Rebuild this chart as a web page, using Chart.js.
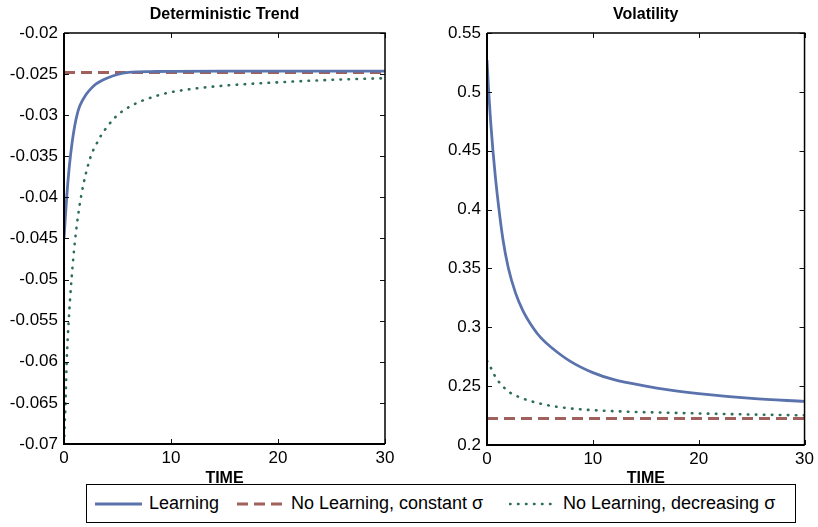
<!DOCTYPE html>
<html>
<head>
<meta charset="utf-8">
<script src="https://cdn.jsdelivr.net/npm/chart.js@4/dist/chart.umd.min.js"></script>
<style>
  html, body { margin: 0; padding: 0; background: #fff; }
  body { width: 818px; height: 527px; position: relative; overflow: hidden;
         font-family: "Liberation Sans", Arial, Helvetica, sans-serif; }
  canvas { position: absolute; top: 0; }
  #trendChart { left: 0; }
  #volChart { left: 420px; }
  #legend { position: absolute; left: 86px; top: 484px; width: 710px; height: 39px;
            border: 1px solid #000; box-sizing: border-box; background: #fff; }
  #legend svg { position: absolute; top: 15px; }
  #legend span { position: absolute; top: 0; line-height: 37px; font-size: 18px; color: #000;
                 white-space: nowrap; }
</style>
</head>
<body>
<canvas id="trendChart" width="400" height="495"></canvas>
<canvas id="volChart" width="398" height="495"></canvas>

<div id="legend">
  <svg style="left:8px" width="47" height="8"><line x1="0" y1="4" x2="47" y2="4" stroke="#5b73ad" stroke-width="2.8"/></svg>
  <span style="left:62px">Learning</span>
  <svg style="left:150px" width="47" height="8"><line x1="0" y1="4" x2="47" y2="4" stroke="#a0605c" stroke-width="3" stroke-dasharray="11 6"/></svg>
  <span style="left:204px">No Learning, constant σ</span>
  <svg style="left:422px" width="47" height="8"><line x1="1" y1="4" x2="47" y2="4" stroke="#2f6e56" stroke-width="2.6" stroke-linecap="round" stroke-dasharray="0.5 7.5"/></svg>
  <span style="left:476px">No Learning, decreasing σ</span>
</div>

<script>
// ---- Deterministic trend panel ----
const trendLearningTime = [0, 0.25, 0.5, 0.75, 1, 1.25, 1.5, 2, 2.5, 3, 3.5, 4, 5, 6, 7, 8, 10, 15, 20, 25, 30];
const trendLearning     = [-0.0450, -0.0400, -0.0362, -0.0334, -0.0313, -0.0298, -0.0288, -0.0276, -0.0268, -0.0262,
                           -0.0258, -0.0255, -0.02505, -0.0248, -0.02472, -0.0247, -0.02466, -0.02465, -0.02465, -0.02465, -0.02465];

const trendConstantTime = [0, 30];
const trendConstant     = [-0.0248, -0.0248];

const trendDecreasingTime = [0, 0.07, 0.14, 0.25, 0.44, 0.7, 1.05, 1.58, 2.5, 3, 3.4, 4.1, 4.75, 5.7, 7.2, 8.5, 10, 12, 15, 20, 25, 30];
const trendDecreasing     = [-0.0700, -0.0675, -0.0650, -0.0600, -0.0550, -0.0500, -0.0450, -0.0400, -0.0350, -0.0336, -0.0326,
                             -0.0313, -0.0303, -0.0293, -0.0283, -0.0277, -0.0272, -0.0268, -0.0264, -0.0260, -0.0257, -0.0255];

const trendYTicks = [-0.07, -0.065, -0.06, -0.055, -0.05, -0.045, -0.04, -0.035, -0.03, -0.025, -0.02];

// ---- Volatility panel ----
const volLearningTime = [0, 0.16, 0.35, 0.56, 0.8, 1.12, 1.5, 2.0, 2.7, 3.4, 4.4, 5.1, 6, 7.8, 10, 12, 15, 17, 20, 25, 30];
const volLearning     = [0.527, 0.500, 0.474, 0.450, 0.427, 0.401, 0.375, 0.351, 0.329, 0.314, 0.299, 0.291, 0.2835,
                         0.2715, 0.2615, 0.2555, 0.2500, 0.2470, 0.2437, 0.2396, 0.2370];

const volConstantTime = [0, 30];
const volConstant     = [0.2225, 0.2225];

const volDecreasingTime = [0, 0.31, 0.7, 1.24, 2.18, 3.1, 4.64, 6.5, 8.7, 10.9, 14, 16.8, 20, 25, 30];
const volDecreasing     = [0.2714, 0.2665, 0.2594, 0.2524, 0.2445, 0.2405, 0.2360, 0.2326, 0.2304, 0.2292, 0.2281,
                           0.2275, 0.2268, 0.2259, 0.2252];

const volYTicks = [0.2, 0.25, 0.3, 0.35, 0.4, 0.45, 0.5, 0.55];

const timeTicks = [0, 10, 20, 30];

const FONT = '"Liberation Sans", Arial, Helvetica, sans-serif';
const COLORS = { learning: '#5b73ad', constant: '#a0605c', decreasing: '#2f6e56' };

function toPoints(xs, ys) {
  return xs.map((x, i) => ({ x: x, y: ys[i] }));
}

// Title centred above the plot box
const panelTitle = {
  id: 'panelTitle',
  afterDraw(chart, args, opts) {
    const { ctx, chartArea: a } = chart;
    ctx.save();
    ctx.font = 'bold 16px ' + FONT;
    ctx.fillStyle = '#000';
    ctx.textAlign = 'center';
    ctx.textBaseline = 'middle';
    ctx.fillText(opts.text, (a.left + a.right) / 2, opts.y);
    ctx.restore();
  }
};

// Boxed axes with inward tick marks on all four sides
const boxFrame = {
  id: 'boxFrame',
  afterDraw(chart) {
    const { ctx, chartArea: a, scales: { x, y } } = chart;
    ctx.save();
    ctx.strokeStyle = '#111';
    ctx.lineWidth = 1;
    y.ticks.forEach(t => {
      const py = Math.round(y.getPixelForValue(t.value)) + 0.5;
      ctx.beginPath();
      ctx.moveTo(a.left, py); ctx.lineTo(a.left + 5, py);
      ctx.moveTo(a.right, py); ctx.lineTo(a.right - 5, py);
      ctx.stroke();
    });
    x.ticks.forEach(t => {
      const px = Math.round(x.getPixelForValue(t.value)) + 0.5;
      ctx.beginPath();
      ctx.moveTo(px, a.bottom); ctx.lineTo(px, a.bottom - 5);
      ctx.moveTo(px, a.top); ctx.lineTo(px, a.top + 5);
      ctx.stroke();
    });
    ctx.strokeStyle = '#000';
    ctx.lineWidth = 1.5;
    ctx.beginPath();
    ctx.moveTo(a.left, a.top); ctx.lineTo(a.right, a.top); ctx.lineTo(a.right, a.bottom);
    ctx.stroke();
    ctx.lineWidth = 2;
    ctx.beginPath();
    ctx.moveTo(a.left, a.top); ctx.lineTo(a.left, a.bottom); ctx.lineTo(a.right, a.bottom);
    ctx.stroke();
    ctx.restore();
  }
};

function lineSet(label, points, style) {
  return Object.assign({
    label: label,
    data: points,
    pointRadius: 0,
    fill: false,
    cubicInterpolationMode: 'monotone',
    borderCapStyle: 'butt'
  }, style);
}

function makeChart(id, cfg) {
  return new Chart(document.getElementById(id), {
    type: 'line',
    data: {
      datasets: [
        lineSet('Learning', toPoints(cfg.learnT, cfg.learn),
          { borderColor: COLORS.learning, borderWidth: 2.8 }),
        lineSet('No Learning, constant σ', toPoints(cfg.constT, cfg.constV),
          { borderColor: COLORS.constant, borderWidth: 3, borderDash: [11, 6] }),
        lineSet('No Learning, decreasing σ', toPoints(cfg.decT, cfg.dec),
          { borderColor: COLORS.decreasing, borderWidth: 2.6, borderDash: [0.5, 7.5], borderCapStyle: 'round' })
      ]
    },
    options: {
      responsive: false,
      animation: false,
      devicePixelRatio: 1,
      layout: { padding: { top: 33, right: cfg.padRight, bottom: 0, left: 0 } },
      plugins: {
        legend: { display: false },
        tooltip: { enabled: false },
        panelTitle: { text: cfg.title, y: 15 }
      },
      scales: {
        x: {
          type: 'linear',
          min: 0, max: 30,
          afterBuildTicks: s => { s.ticks = timeTicks.map(v => ({ value: v })); },
          afterFit: s => { s.height = cfg.xAxisHeight; },
          grid: { display: false, drawTicks: false },
          border: { display: false },
          ticks: { color: '#000', font: { family: FONT, size: 17 }, padding: 4, autoSkip: false, maxRotation: 0,
                   callback: v => String(v) },
          title: { display: true, text: 'TIME', color: '#000', font: { family: FONT, size: 16, weight: 'bold' },
                   padding: { top: 0, bottom: 7 } }
        },
        y: {
          type: 'linear',
          min: cfg.yMin, max: cfg.yMax,
          afterBuildTicks: s => { s.ticks = cfg.yTicks.map(v => ({ value: v })); },
          afterFit: s => { s.width = cfg.yAxisWidth; },
          grid: { display: false, drawTicks: false },
          border: { display: false },
          ticks: { color: '#000', font: { family: FONT, size: 17 }, padding: 6, autoSkip: false,
                   callback: v => String(v) }
        }
      }
    },
    plugins: [boxFrame, panelTitle]
  });
}

makeChart('trendChart', {
  title: 'Deterministic Trend',
  learnT: trendLearningTime, learn: trendLearning,
  constT: trendConstantTime, constV: trendConstant,
  decT: trendDecreasingTime, dec: trendDecreasing,
  yTicks: trendYTicks, yMin: -0.07, yMax: -0.02,
  yAxisWidth: 64, xAxisHeight: 51, padRight: 15
});

makeChart('volChart', {
  title: 'Volatility',
  learnT: volLearningTime, learn: volLearning,
  constT: volConstantTime, constV: volConstant,
  decT: volDecreasingTime, dec: volDecreasing,
  yTicks: volYTicks, yMin: 0.2, yMax: 0.55,
  yAxisWidth: 67, xAxisHeight: 50, padRight: 10
});
</script>
</body>
</html>
